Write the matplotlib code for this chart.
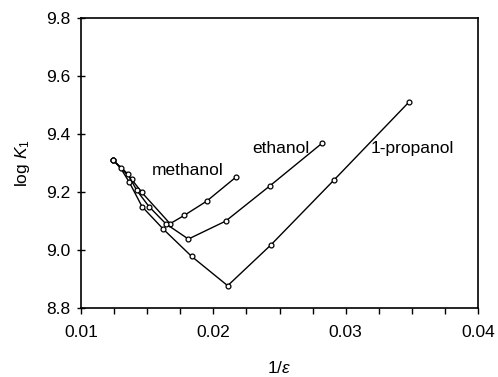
import matplotlib
matplotlib.use("Agg")
import matplotlib.pyplot as plt
from matplotlib.ticker import MultipleLocator, FormatStrFormatter

plt.rcParams['font.family'] = ['Liberation Sans', 'DejaVu Sans']
plt.rcParams['mathtext.fontset'] = 'custom'
plt.rcParams['mathtext.it'] = 'Liberation Sans:italic'
plt.rcParams['mathtext.rm'] = 'Liberation Sans'

methanol_x = [0.01244, 0.01383, 0.01459, 0.01673, 0.01781, 0.01950, 0.02171]
methanol_y = [9.310, 9.244, 9.199, 9.091, 9.120, 9.169, 9.252]

ethanol_x = [0.01244, 0.01353, 0.01421, 0.01514, 0.01640, 0.01811, 0.02093, 0.02428, 0.02819]
ethanol_y = [9.310, 9.263, 9.206, 9.150, 9.091, 9.038, 9.100, 9.222, 9.368]

propanol_x = [0.01244, 0.01300, 0.01365, 0.01461, 0.01622, 0.01836, 0.02108, 0.02433, 0.02912, 0.03476]
propanol_y = [9.310, 9.282, 9.234, 9.150, 9.072, 8.978, 8.877, 9.017, 9.242, 9.510]

labels = ["methanol", "ethanol", "1-propanol"]
label_x = [0.01809, 0.02511, 0.03505]
label_y = [9.276, 9.352, 9.352]

fig = plt.figure(figsize=(4.98, 3.77), dpi=100)
ax = fig.add_axes([0.1627, 0.183, 0.7973, 0.7685])

for xs, ys in [(methanol_x, methanol_y), (ethanol_x, ethanol_y), (propanol_x, propanol_y)]:
    ax.plot(xs, ys, color='black', lw=1.0, marker='o', markersize=3.5,
            markerfacecolor='white', markeredgecolor='black', markeredgewidth=0.9)

for t, x, y in zip(labels, label_x, label_y):
    ax.text(x, y, t, ha='center', va='center', fontsize=12.5)

ax.set_xlim(0.01, 0.04)
ax.set_ylim(8.8, 9.8)
ax.xaxis.set_major_locator(MultipleLocator(0.01))
ax.xaxis.set_minor_locator(MultipleLocator(0.0025))
ax.yaxis.set_major_locator(MultipleLocator(0.2))
ax.xaxis.set_major_formatter(FormatStrFormatter('%.2f'))
ax.yaxis.set_major_formatter(FormatStrFormatter('%.1f'))
ax.tick_params(axis='x', which='both', direction='out', length=4.5, width=1, labelsize=12.5, pad=8)
ax.tick_params(axis='y', which='major', direction='inout', length=6, width=1, labelsize=12.5, pad=5)
for s in ax.spines.values():
    s.set_linewidth(1.2)

ax.set_xlabel(r'1/$\mathit{\varepsilon}$', fontsize=12.5, labelpad=14)
ax.set_ylabel(r'log $\mathit{K}$$_1$', fontsize=12.5, labelpad=10)

fig.savefig('out.png', dpi=100)
